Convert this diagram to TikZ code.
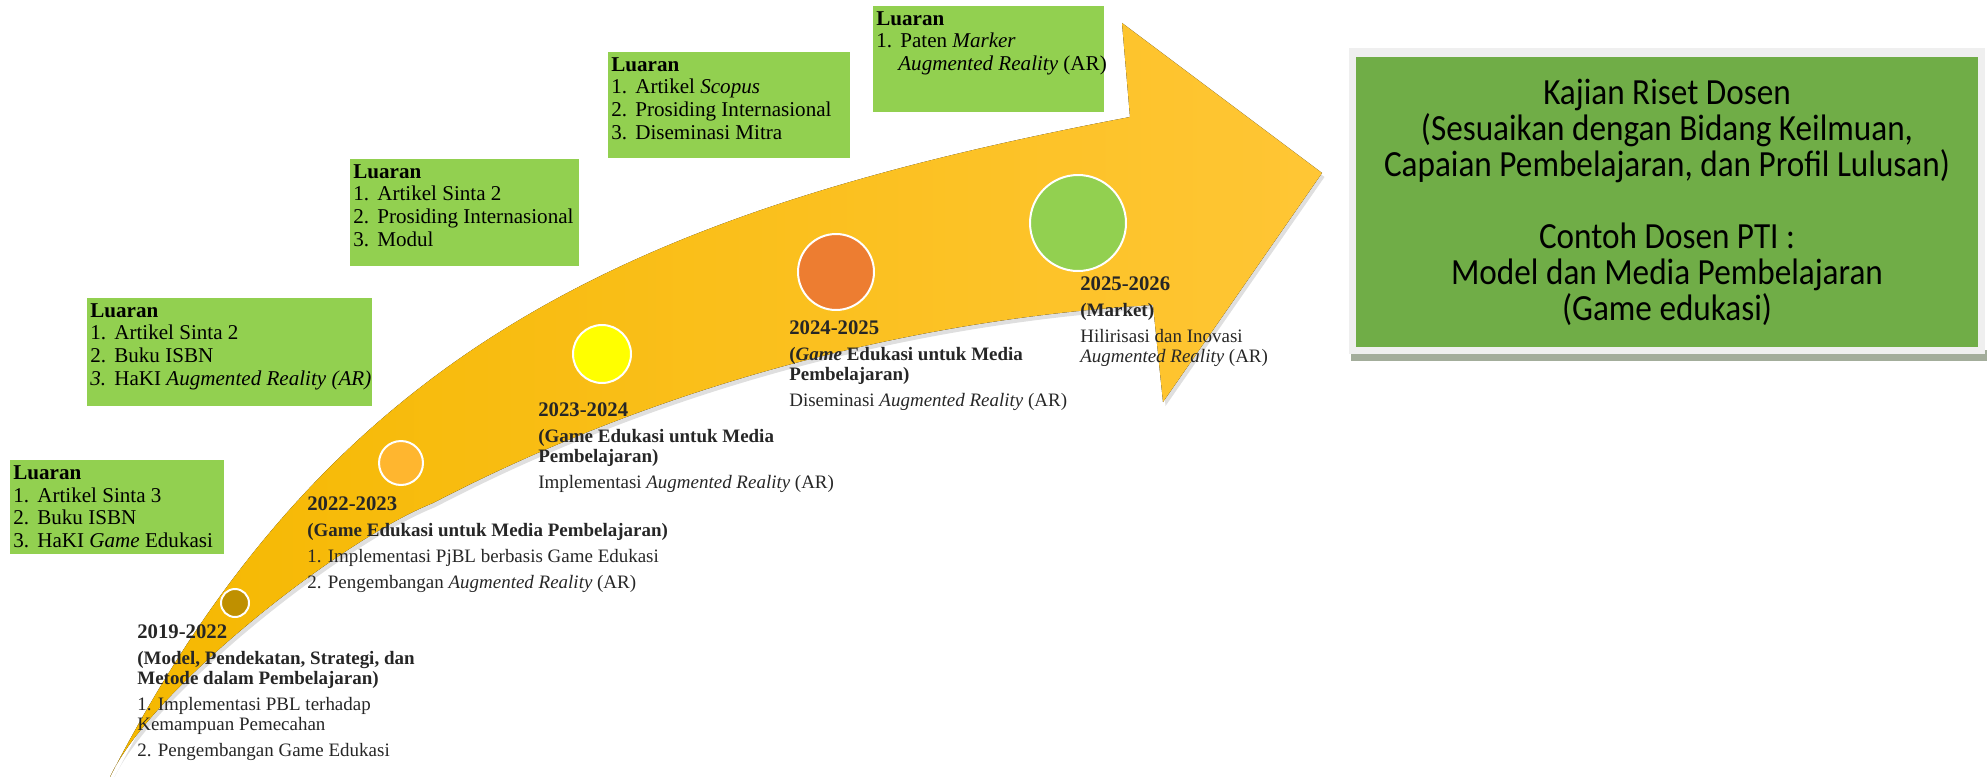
\documentclass[tikz,border=0pt]{standalone}
\usepackage{fontspec}
\setmainfont{Liberation Serif}
\newfontfamily\calibri[FakeStretch=0.9]{Carlito}
\usetikzlibrary{shadows}

\definecolor{luarangreen}{HTML}{92D050}
\definecolor{kajiangreen}{HTML}{70AD47}
\definecolor{framegray}{HTML}{EFEFEF}
\definecolor{framedark}{HTML}{A3AD9B}
\definecolor{golddark}{HTML}{F5B800}
\definecolor{goldmid}{HTML}{FFC000}
\definecolor{goldlight}{HTML}{FFC635}
\definecolor{dotgold}{HTML}{BF9000}
\definecolor{dotamber}{HTML}{FFB62F}
\definecolor{dotyellow}{HTML}{FFFF00}
\definecolor{dotorange}{HTML}{ED7D31}

% number column of the output lists
\newcommand{\lnum}[1]{\makebox[0.48cm][l]{#1}}
% year of a stage
\newcommand{\yr}[1]{{\fontsize{11.8}{11.4}\selectfont\textbf{#1}}}

\begin{document}
\begin{tikzpicture}[x=0.02cm,y=-0.02cm,
    luaran/.style={fill=luarangreen, anchor=north west, inner xsep=0.06cm, inner ysep=0.1cm, font=\fontsize{12}{13}\selectfont},
    stage/.style={anchor=north west, align=left, inner sep=0pt, text=black!85, font=\fontsize{10.8}{11.4}\selectfont},
    dot/.style={circle, draw=white, line width=0.04cm, inner sep=0pt},
    bigbox/.style={fill=kajiangreen, minimum width=12.44cm, minimum height=5.8cm, inner sep=0pt, align=center, font=\calibri\fontsize{21}{20.5}\selectfont}]
    \useasboundingbox (0,0) rectangle (1987,777);

    \coordinate (tail) at (110,777);
    \coordinate (notchup) at (1130,117);
    \coordinate (headup) at (1122,23);
    \coordinate (tip) at (1322,173);
    \coordinate (headdown) at (1163,402);
    \coordinate (notchdown) at (1153,305);
    \coordinate (bend) at (433,503);

    % the curved arrow
    \fill[left color=golddark, middle color=goldmid, right color=goldlight,
          drop shadow={shadow xshift=0.05cm, shadow yshift=-0.08cm, opacity=0.25}]
        (tail) .. controls (330,350) and (630,212) .. (notchup)
        -- (headup) -- (tip) -- (headdown) -- (notchdown)
        .. controls (900,320) and (650,390) .. (bend)
        .. controls (340,540) and (150,690) .. (tail) -- cycle;

    \node[dot, fill=dotgold, minimum size=0.56cm] (s1) at (235,603) {};
    \node[dot, fill=dotamber, minimum size=0.88cm] (s2) at (401,463) {};
    \node[dot, fill=dotyellow, minimum size=1.16cm] (s3) at (602,354) {};
    \node[dot, fill=dotorange, minimum size=1.52cm] (s4) at (836,272) {};
    \node[dot, fill=luarangreen, minimum size=1.92cm] (s5) at (1078,223) {};

    \node[stage] (y2019) at (137,624) {\yr{2019-2022}\\[0.12cm]
        \textbf{(Model, Pendekatan, Strategi, dan}\\\textbf{Metode dalam Pembelajaran)}\\[0.12cm]
        1. Implementasi PBL terhadap\\Kemampuan Pemecahan\\[0.12cm]
        2. Pengembangan Game Edukasi};
    \node[stage] (y2022) at (307,496) {\yr{2022-2023}\\[0.12cm]
        \textbf{(Game Edukasi untuk Media Pembelajaran)}\\[0.12cm]
        1. Implementasi PjBL berbasis Game Edukasi\\[0.12cm]
        2. Pengembangan \textit{Augmented Reality} (AR)};
    \node[stage] (y2023) at (538,402) {\yr{2023-2024}\\[0.12cm]
        \textbf{(Game Edukasi untuk Media}\\\textbf{Pembelajaran)}\\[0.12cm]
        Implementasi \textit{Augmented Reality} (AR)};
    \node[stage] (y2024) at (789,320) {\yr{2024-2025}\\[0.12cm]
        \textbf{(\textit{Game} Edukasi untuk Media}\\\textbf{Pembelajaran)}\\[0.12cm]
        Diseminasi \textit{Augmented Reality} (AR)};
    \node[stage] (y2025) at (1080,276) {\yr{2025-2026}\\[0.12cm]
        \textbf{(Market)}\\[0.12cm]
        Hilirisasi dan Inovasi\\\textit{Augmented Reality} (AR)};

    \node[luaran] (luaran1) at (10,460) {\parbox[t][1.68cm][t]{4.16cm}{\raggedright\textbf{Luaran}\\
        \lnum{1.}Artikel Sinta 3\\\lnum{2.}Buku ISBN\\\lnum{3.}HaKI \textit{Game} Edukasi}};
    \node[luaran] (luaran2) at (87,298) {\parbox[t][1.96cm][t]{5.58cm}{\raggedright\textbf{Luaran}\\
        \lnum{1.}Artikel Sinta 2\\\lnum{2.}Buku ISBN\\\mbox{\lnum{\textit{3.}}HaKI \textit{Augmented Reality (AR)}}}};
    \node[luaran] (luaran3) at (350,159) {\parbox[t][1.94cm][t]{4.46cm}{\raggedright\textbf{Luaran}\\
        \lnum{1.}Artikel Sinta 2\\\lnum{2.}Prosiding Internasional\\\lnum{3.}Modul}};
    \node[luaran] (luaran4) at (608,52) {\parbox[t][1.92cm][t]{4.72cm}{\raggedright\textbf{Luaran}\\
        \lnum{1.}Artikel \textit{Scopus}\\\lnum{2.}Prosiding Internasional\\\lnum{3.}Diseminasi Mitra}};
    \node[luaran] (luaran5) at (873,6) {\parbox[t][1.92cm][t]{4.50cm}{\raggedright\textbf{Luaran}\\
        \lnum{1.}Paten \textit{Marker}\\\mbox{\hspace*{0.44cm}\textit{Augmented Reality} (AR)}}};

    % research box on the right
    \fill[framedark] (1351,350) rectangle (1987,361);
    \fill[framegray] (1349,48) rectangle (1985,354);
    \node[bigbox] (kajian) at (1667,202) {Kajian Riset Dosen\\
        (Sesuaikan dengan Bidang Keilmuan,\\
        Capaian Pembelajaran, dan Profil Lulusan)\\[0.72cm]
        Contoh Dosen PTI :\\
        Model dan Media Pembelajaran\\
        (Game edukasi)};
\end{tikzpicture}
\end{document}
